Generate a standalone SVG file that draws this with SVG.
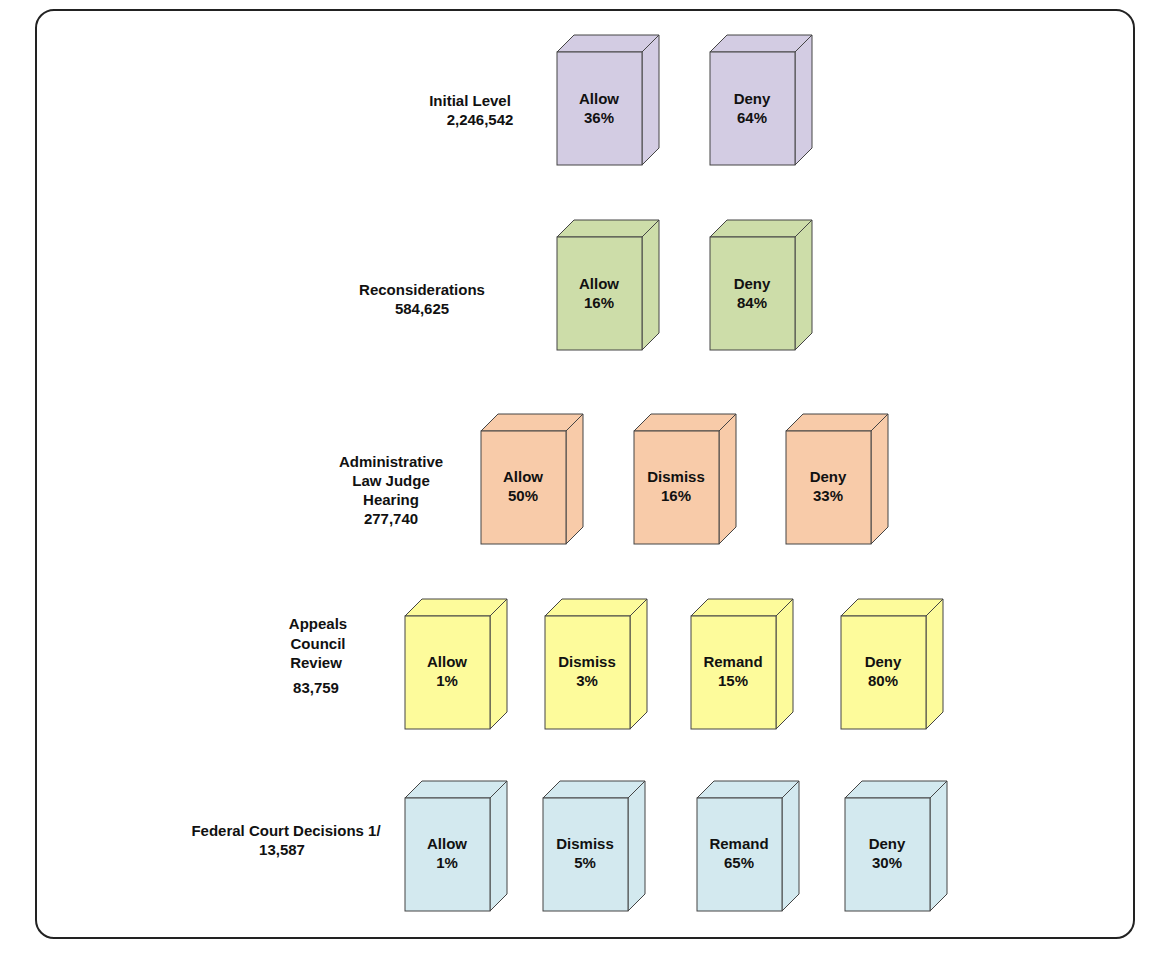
<svg xmlns="http://www.w3.org/2000/svg" width="1170" height="960" viewBox="0 0 1170 960">
<style>
.f{stroke:#444;stroke-width:1}
.t{font-family:"Liberation Sans",Arial,sans-serif;font-weight:bold;font-size:15px;fill:#111;text-anchor:middle}
.l{font-family:"Liberation Sans",Arial,sans-serif;font-weight:bold;font-size:15px;fill:#111;text-anchor:middle}
.p{fill:#d3cce3}.g{fill:#cddda9}.o{fill:#f8cba9}.y{fill:#fdfb9b}.c{fill:#d3e9ef}
</style>
<defs>
<g id="box">
<path class="f" d="M0,0 L17,-17 L102,-17 L85,0 Z"/>
<path class="f" d="M85,0 L102,-17 L102,96 L85,113 Z"/>
<rect class="f" x="0" y="0" width="85" height="113"/>
</g>
</defs>
<rect x="36" y="10" width="1098" height="928" rx="18" fill="#fff" stroke="#222" stroke-width="2"/>
<g id="labels">
<text class="l" x="470" y="106">Initial Level</text><text class="l" x="480" y="125">2,246,542</text>
<text class="l" x="422" y="295">Reconsiderations</text><text class="l" x="422" y="314">584,625</text>
<text class="l" x="391" y="467">Administrative</text><text class="l" x="391" y="486">Law Judge</text><text class="l" x="391" y="505">Hearing</text><text class="l" x="391" y="524">277,740</text>
<text class="l" x="318" y="629">Appeals</text><text class="l" x="318" y="649">Council</text><text class="l" x="316" y="668">Review</text><text class="l" x="316" y="693">83,759</text>
<text class="l" x="286" y="836">Federal Court Decisions 1/</text><text class="l" x="282" y="855">13,587</text>
</g>
<g id="connectors"/>
<g id="r1" class="p">
<g id="n1"><use href="#box" x="557" y="52"/><text class="t" x="599" y="104">Allow</text><text class="t" x="599" y="123">36%</text></g>
<g id="n2"><use href="#box" x="710" y="52"/><text class="t" x="752" y="104">Deny</text><text class="t" x="752" y="123">64%</text></g>
</g>
<g id="r2" class="g">
<g id="n3"><use href="#box" x="557" y="237"/><text class="t" x="599" y="289">Allow</text><text class="t" x="599" y="308">16%</text></g>
<g id="n4"><use href="#box" x="710" y="237"/><text class="t" x="752" y="289">Deny</text><text class="t" x="752" y="308">84%</text></g>
</g>
<g id="r3" class="o">
<g id="n5"><use href="#box" x="481" y="431"/><text class="t" x="523" y="482">Allow</text><text class="t" x="523" y="501">50%</text></g>
<g id="n6"><use href="#box" x="634" y="431"/><text class="t" x="676" y="482">Dismiss</text><text class="t" x="676" y="501">16%</text></g>
<g id="n7"><use href="#box" x="786" y="431"/><text class="t" x="828" y="482">Deny</text><text class="t" x="828" y="501">33%</text></g>
</g>
<g id="r4" class="y">
<g id="n8"><use href="#box" x="405" y="616"/><text class="t" x="447" y="667">Allow</text><text class="t" x="447" y="686">1%</text></g>
<g id="n9"><use href="#box" x="545" y="616"/><text class="t" x="587" y="667">Dismiss</text><text class="t" x="587" y="686">3%</text></g>
<g id="n10"><use href="#box" x="691" y="616"/><text class="t" x="733" y="667">Remand</text><text class="t" x="733" y="686">15%</text></g>
<g id="n11"><use href="#box" x="841" y="616"/><text class="t" x="883" y="667">Deny</text><text class="t" x="883" y="686">80%</text></g>
</g>
<g id="r5" class="c">
<g id="n12"><use href="#box" x="405" y="798"/><text class="t" x="447" y="849">Allow</text><text class="t" x="447" y="868">1%</text></g>
<g id="n13"><use href="#box" x="543" y="798"/><text class="t" x="585" y="849">Dismiss</text><text class="t" x="585" y="868">5%</text></g>
<g id="n14"><use href="#box" x="697" y="798"/><text class="t" x="739" y="849">Remand</text><text class="t" x="739" y="868">65%</text></g>
<g id="n15"><use href="#box" x="845" y="798"/><text class="t" x="887" y="849">Deny</text><text class="t" x="887" y="868">30%</text></g>
</g>
</svg>
